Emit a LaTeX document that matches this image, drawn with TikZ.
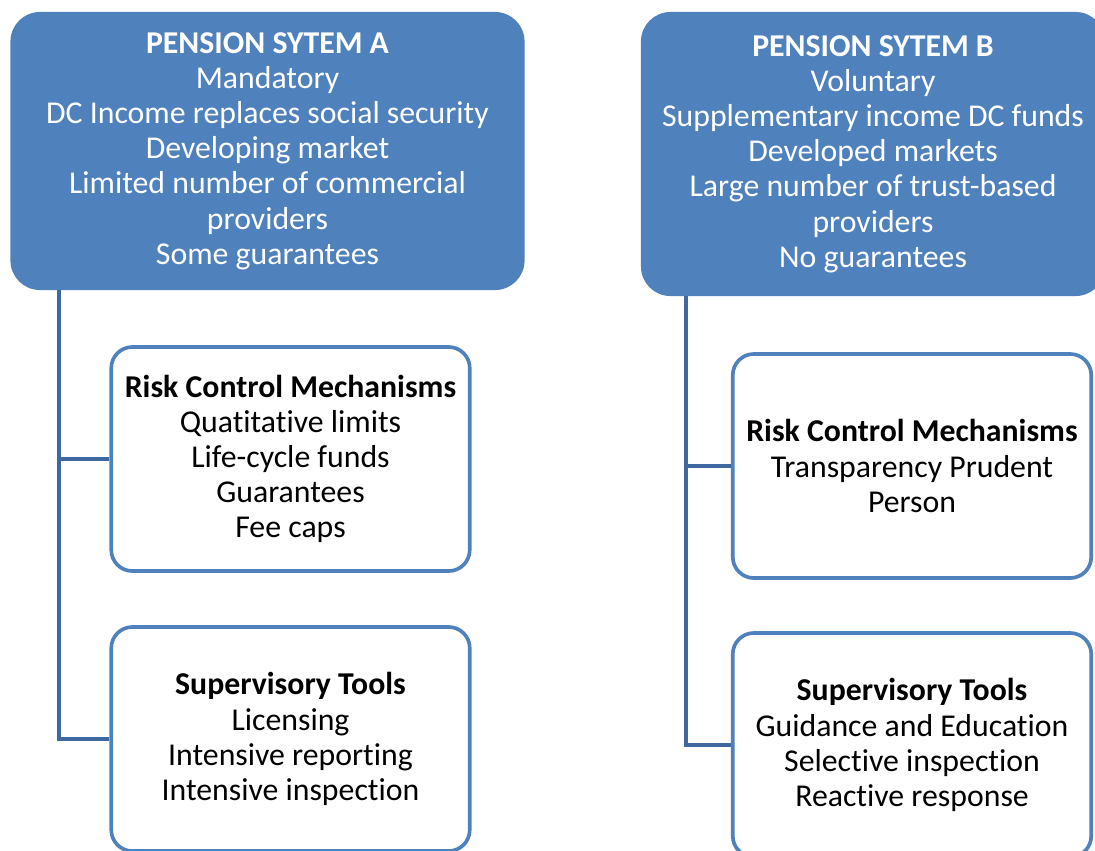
\documentclass[tikz,border=0pt]{standalone}
\usepackage{fontspec}
\setmainfont{Carlito}[Ligatures=NoCommon]
\usetikzlibrary{calc}
\definecolor{pblue}{HTML}{4F81BD}
\definecolor{cblue}{HTML}{3F67A0}

\begin{document}
\begin{tikzpicture}[x=0.025cm, y=-0.025cm]
\tikzset{
  basebox/.style={align=center, font=\fontsize{22.6}{25}\selectfont},
  sysbox/.style={basebox, fill=pblue, text=white, rounded corners=21pt},
  subbox/.style={basebox, draw=pblue, line width=2.6pt, fill=white, text=black,
    rounded corners=15pt, minimum width=8.96cm, minimum height=5.6cm},
  conn/.style={draw=cblue, line width=2.9pt},
}

\useasboundingbox (0,0) rectangle (1095,850);

\node[sysbox, minimum width=12.85cm, minimum height=6.95cm] (a) at (267.5,151)
  {\textbf{PENSION SYTEM A}\\Mandatory\\DC Income replaces social security\\Developing market\\Limited number of commercial\\providers\\Some guarantees};
\node[sysbox, minimum width=11.6cm, minimum height=7.1cm] (b) at (873,154)
  {\textbf{PENSION SYTEM B}\\Voluntary\\Supplementary income DC funds\\Developed markets\\Large number of trust-based\\providers\\No guarantees};

\node[subbox] (ra) at (290.5,459)
  {\textbf{Risk Control Mechanisms}\\Quatitative limits\\Life-cycle funds\\Guarantees\\Fee caps};
\node[subbox] (sa) at (290.5,739)
  {\textbf{Supervisory Tools}\\Licensing\\Intensive reporting\\Intensive inspection};

\node[subbox] (rb) at (912,466)
  {\textbf{Risk Control Mechanisms}\\Transparency Prudent\\Person};
\node[subbox] (sb) at (912,745)
  {\textbf{Supervisory Tools}\\Guidance and Education\\Selective inspection\\Reactive response};

\coordinate (ta) at ($(a.south west)+(49,0)$);
\coordinate (tb) at ($(b.south west)+(45,0)$);

\draw[conn] (ta) |- (ra.west);
\draw[conn] (ta) |- (sa.west);
\draw[conn] (tb) |- (rb.west);
\draw[conn] (tb) |- (sb.west);
\end{tikzpicture}
\end{document}
